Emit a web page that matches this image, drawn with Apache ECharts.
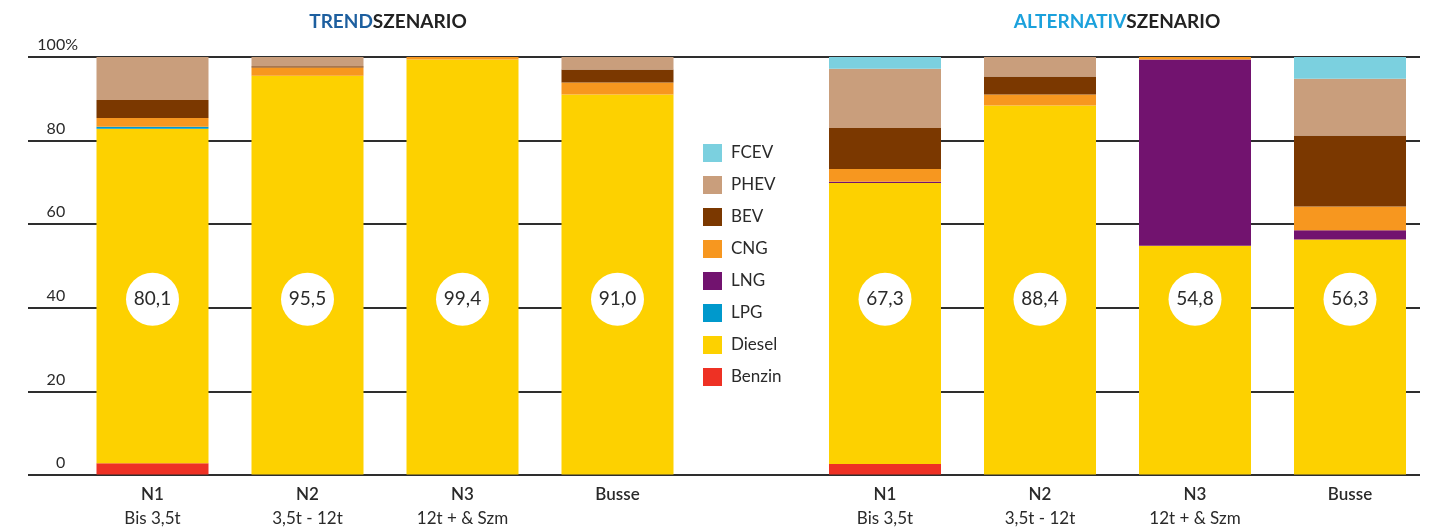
<!DOCTYPE html>
<html>
<head>
<meta charset="utf-8">
<script src="https://cdn.jsdelivr.net/npm/echarts@6/dist/echarts.min.js"></script>
<style>
  html, body { margin: 0; padding: 0; background: #fff; }
  #chart { width: 1436px; height: 527px; }
</style>
</head>
<body>
<div id="chart"></div>
<script>
// Kategorien
const categories = ['N1', 'N2', 'N3', 'Busse']
const subLabels = ['Bis 3,5t', '3,5t - 12t', '12t + & Szm', '']

// Antriebsarten (Stapelreihenfolge von unten nach oben)
const fuels = ['Benzin', 'Diesel', 'LPG', 'LNG', 'CNG', 'BEV', 'PHEV', 'FCEV']
const fuelColors = ['#ee3124', '#fdd100', '#0099cc', '#72136f', '#f7971f', '#7b3800', '#c99e7c', '#7bd0df']

// Trendszenario (N1, N2, N3, Busse)
const trendBenzin = [2.7, 0, 0, 0]
const trendDiesel = [80.1, 95.5, 99.4, 91.0]
const trendLPG = [0.5, 0, 0, 0]
const trendLNG = [0, 0, 0, 0]
const trendCNG = [2.1, 2.0, 0.6, 2.9]
const trendBEV = [4.3, 0.3, 0, 3.1]
const trendPHEV = [10.3, 2.2, 0, 3.0]
const trendFCEV = [0, 0, 0, 0]

// Alternativszenario
const altBenzin = [2.5, 0, 0, 0]
const altDiesel = [67.3, 88.4, 54.8, 56.3]
const altLPG = [0, 0, 0, 0]
const altLNG = [0.3, 0, 44.6, 2.2]
const altCNG = [3.1, 2.6, 0.6, 5.7]
const altBEV = [9.8, 4.3, 0, 17.0]
const altPHEV = [14.2, 4.7, 0, 13.6]
const altFCEV = [2.8, 0, 0, 5.2]

const trendData = [trendBenzin, trendDiesel, trendLPG, trendLNG, trendCNG, trendBEV, trendPHEV, trendFCEV]
const altData = [altBenzin, altDiesel, altLPG, altLNG, altCNG, altBEV, altPHEV, altFCEV]

const FONT = 'Lato, "Open Sans", sans-serif'
const TEXT = '#2a2a2a'
const LINE = '#2e2e2e'
const CIRCLE_Y = 42

const chart = echarts.init(document.getElementById('chart'))

function fmt(v) {
  return v.toFixed(1).replace('.', ',')
}

function barSeries(data, idx) {
  const out = fuels.map((name, i) => ({
    name: name,
    type: 'bar',
    stack: 'total' + idx,
    xAxisIndex: idx,
    yAxisIndex: idx,
    barWidth: 112,
    itemStyle: { color: fuelColors[i] },
    data: data[i]
  }))
  // weisse Kreise mit Diesel-Anteil
  out.push({
    type: 'scatter',
    xAxisIndex: idx,
    yAxisIndex: idx,
    symbolSize: 53,
    z: 5,
    itemStyle: { color: '#fff', opacity: 1 },
    label: {
      show: true,
      position: 'inside',
      color: TEXT,
      fontFamily: FONT,
      fontSize: 19,
      formatter: p => fmt(data[1][p.dataIndex])
    },
    data: categories.map((c, i) => [i, CIRCLE_Y])
  })
  return out
}

function catAxis(gridIndex) {
  return {
    type: 'category',
    gridIndex: gridIndex,
    data: categories,
    axisLine: { show: false },
    axisTick: { show: false },
    axisLabel: {
      margin: 8,
      formatter: (v, i) => '{a|' + v + '}\n{b|' + subLabels[i] + '}',
      rich: {
        a: { fontFamily: FONT, fontSize: 17, fontWeight: 600, color: TEXT, lineHeight: 24 },
        b: { fontFamily: FONT, fontSize: 17, color: TEXT, lineHeight: 24 }
      }
    }
  }
}

function valAxis(gridIndex, interval, lineWidth) {
  return {
    type: 'value',
    gridIndex: gridIndex,
    min: 0,
    max: 100,
    interval: interval,
    axisLine: { show: false },
    axisTick: { show: false },
    axisLabel: { show: false },
    splitLine: { show: lineWidth > 0, lineStyle: { color: LINE, width: lineWidth } }
  }
}

function hiddenX(gridIndex) {
  return { type: 'value', gridIndex: gridIndex, show: false, min: 0, max: 1 }
}

const labelAxis = valAxis(2, 20, 2)
labelAxis.axisLabel = {
  show: true,
  inside: true,
  margin: 50,
  align: 'right',
  verticalAlign: 'bottom',
  padding: [0, 0, 4, 0],
  color: TEXT,
  fontFamily: FONT,
  fontSize: 16,
  formatter: v => v === 100 ? '100%' : v + '{h|%}',
  rich: { h: { color: 'rgba(0,0,0,0)', fontFamily: FONT, fontSize: 16 } }
}

const option = {
  backgroundColor: '#fff',
  animation: false,
  title: [
    {
      text: '{a|TREND}{b|SZENARIO}',
      left: 388,
      top: 12,
      textAlign: 'center',
      padding: 0,
      textStyle: {
        rich: {
          a: { color: '#1d5f9f', fontFamily: FONT, fontSize: 19 },
          b: { color: '#222', fontFamily: FONT, fontSize: 19 }
        }
      }
    },
    {
      text: '{a|ALTERNATIV}{b|SZENARIO}',
      left: 1117,
      top: 12,
      textAlign: 'center',
      padding: 0,
      textStyle: {
        rich: {
          a: { color: '#1ba1dc', fontFamily: FONT, fontSize: 19 },
          b: { color: '#222', fontFamily: FONT, fontSize: 19 }
        }
      }
    }
  ],
  legend: {
    orient: 'vertical',
    left: 703,
    top: 144,
    padding: 0,
    itemWidth: 19,
    itemHeight: 18,
    itemGap: 14,
    icon: 'rect',
    data: ['FCEV', 'PHEV', 'BEV', 'CNG', 'LNG', 'LPG', 'Diesel', 'Benzin'],
    textStyle: { color: TEXT, fontFamily: FONT, fontSize: 17, padding: [0, 0, 0, 4] }
  },
  grid: [
    { left: 75, right: 741, top: 57, bottom: 52 },
    { left: 807.5, right: 8.5, top: 57, bottom: 52 },
    { left: 28, right: 763, top: 57, bottom: 52 },
    { left: 829, right: 16, top: 57, bottom: 52 },
    { left: 28, right: 16, top: 57, bottom: 52 }
  ],
  xAxis: [catAxis(0), catAxis(1), hiddenX(2), hiddenX(3), hiddenX(4)],
  yAxis: [
    valAxis(0, 20, 0),
    valAxis(1, 20, 0),
    labelAxis,
    valAxis(3, 20, 2),
    valAxis(4, 100, 2)
  ],
  series: [...barSeries(trendData, 0), ...barSeries(altData, 1)]
}

chart.setOption(option)
</script>
</body>
</html>
